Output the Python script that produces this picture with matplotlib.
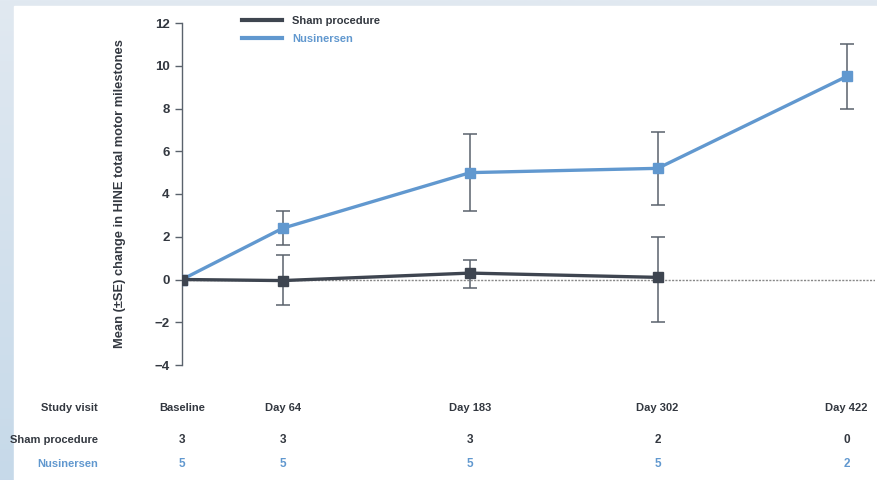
import matplotlib.pyplot as plt
import matplotlib.transforms as mtransforms
import numpy as np

plt.rcParams['font.family'] = ['Liberation Sans', 'DejaVu Sans']

days = [0, 64, 183, 302, 422]
visit_labels = ["Baseline", "Day 64", "Day 183", "Day 302", "Day 422"]

sham_days = [0, 64, 183, 302]
sham_mean = [0.0, -0.05, 0.3, 0.1]
sham_lo = [0.0, -1.2, -0.4, -2.0]
sham_hi = [0.0, 1.15, 0.9, 2.0]

nus_days = [0, 64, 183, 302, 422]
nus_mean = [0.0, 2.4, 5.0, 5.2, 9.5]
nus_lo = [0.0, 1.6, 3.2, 3.5, 8.0]
nus_hi = [0.0, 3.2, 6.8, 6.9, 11.0]

sham_n = [3, 3, 3, 2, 0]
nus_n = [5, 5, 5, 5, 2]

sham_col = "#3e4550"
nus_col = "#6198cf"
err_col = "#5a626c"
txt_col = "#333840"

fig = plt.figure(figsize=(8.77, 4.8), dpi=100)

# light blue frame behind the white panel
bg = fig.add_axes([0, 0, 1, 1], zorder=-10)
grad = np.linspace(0, 1, 256).reshape(-1, 1)
bg.imshow(grad, aspect="auto", extent=[0, 1, 0, 1], origin="upper",
          cmap=plt.matplotlib.colors.LinearSegmentedColormap.from_list("g", ["#e1e9f1", "#c6d9e9"]))
bg.add_patch(plt.Rectangle((14 / 877, 0), 1, 1 - 6 / 480, color="white"))
bg.set_xlim(0, 1)
bg.set_ylim(0, 1)
bg.axis("off")

ax = fig.add_axes([182 / 877, 1 - 365 / 480, 693 / 877, 342 / 480])
ax.patch.set_alpha(0)

ax.axhline(0, color="#888888", lw=1, ls=(0, (1.5, 1)), zorder=1)

sham_err = [np.array(sham_mean) - np.array(sham_lo), np.array(sham_hi) - np.array(sham_mean)]
nus_err = [np.array(nus_mean) - np.array(nus_lo), np.array(nus_hi) - np.array(nus_mean)]

ax.errorbar(sham_days, sham_mean, yerr=sham_err, fmt="none", ecolor=err_col,
            elinewidth=1.1, capsize=5, capthick=1.1, zorder=2)
ax.errorbar(nus_days, nus_mean, yerr=nus_err, fmt="none", ecolor=err_col,
            elinewidth=1.1, capsize=5, capthick=1.1, zorder=2)

ax.plot(sham_days, sham_mean, color=sham_col, lw=2.4, marker="s", ms=7.5,
        label="Sham procedure", zorder=4)
ax.plot(nus_days, nus_mean, color=nus_col, lw=2.4, marker="s", ms=7.5,
        label="Nusinersen", zorder=3)

ax.set_xlim(0, 440)
ax.set_ylim(-4, 12)
ax.set_yticks(range(-4, 13, 2))
ax.set_yticklabels(["\u22124", "\u22122", "0", "2", "4", "6", "8", "10", "12"],
                   fontweight="bold", fontsize=9.5, color=txt_col)
ax.set_xticks([])
for s in ["top", "right", "bottom"]:
    ax.spines[s].set_visible(False)
ax.spines["left"].set_color(err_col)
ax.spines["left"].set_linewidth(1)
ax.tick_params(axis="y", direction="out", length=5, width=1, color=err_col, pad=4)

ax.set_ylabel("Mean (\u00b1SE) change in HINE total motor milestones",
              fontweight="bold", fontsize=9.3, color=txt_col, labelpad=20)

leg = ax.legend(loc="upper left", bbox_to_anchor=(232 / 877, 1 - 6 / 480),
                bbox_transform=fig.transFigure, frameon=False, handlelength=3.6,
                handletextpad=0.9, labelspacing=0.75, fontsize=8)
for line in leg.get_lines():
    line.set_marker("")
    line.set_linewidth(3)
for t, c in zip(leg.get_texts(), [txt_col, nus_col]):
    t.set_color(c)
    t.set_fontweight("bold")

# table of visits and n below the chart
trans = mtransforms.blended_transform_factory(ax.transData, fig.transFigure)
rows_y = [1 - 408 / 480, 1 - 440 / 480, 1 - 464 / 480]
fig.text(98 / 877, rows_y[0], "Study visit", ha="right", va="center",
         fontsize=8, fontweight="bold", color=txt_col)
fig.text(98 / 877, rows_y[1], "Sham procedure", ha="right", va="center",
         fontsize=8, fontweight="bold", color=txt_col)
fig.text(98 / 877, rows_y[2], "Nusinersen", ha="right", va="center",
         fontsize=8, fontweight="bold", color=nus_col)
for d, lab, sn, nn in zip(days, visit_labels, sham_n, nus_n):
    ax.text(d, rows_y[0], lab, transform=trans, ha="center", va="center",
            fontsize=8, fontweight="bold", color=txt_col, clip_on=False)
    ax.text(d, rows_y[1], str(sn), transform=trans, ha="center", va="center",
            fontsize=8.5, fontweight="bold", color=txt_col, clip_on=False)
    ax.text(d, rows_y[2], str(nn), transform=trans, ha="center", va="center",
            fontsize=8.5, fontweight="bold", color=nus_col, clip_on=False)

fig.savefig("out.png", dpi=100)
